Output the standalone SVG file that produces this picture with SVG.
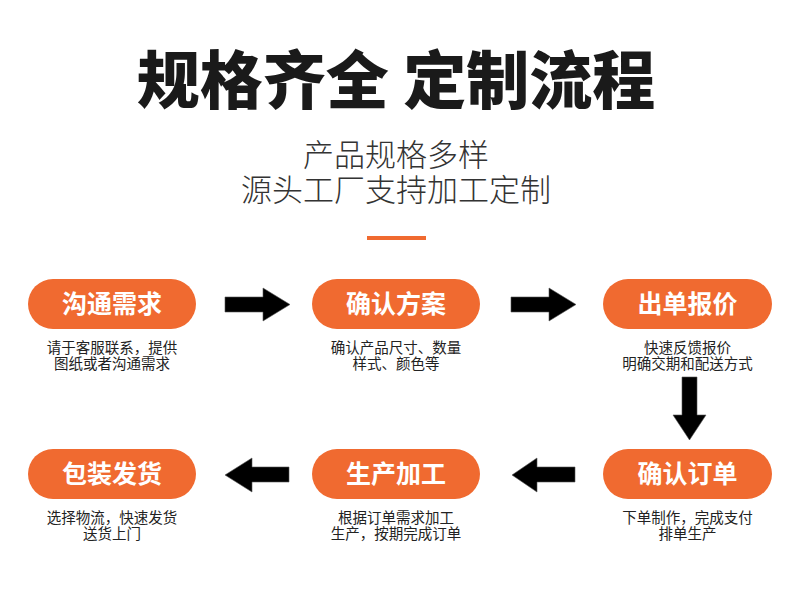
<svg xmlns="http://www.w3.org/2000/svg" width="790" height="592" viewBox="0 0 790 592">
<style>
text{font-family:"Noto Sans CJK SC","Noto Sans",sans-serif;text-anchor:middle}
.title{font-size:63px;font-weight:900;fill:#1a1a1a}
.sub{font-size:31px;font-weight:300;fill:#333}
.pill{fill:#f06a30}
.pt{font-size:25px;font-weight:700;fill:#fff}
.desc{font-size:14.5px;fill:#222}
.arr{fill:#000;stroke:#555;stroke-width:0.6}
</style>
<rect width="790" height="592" fill="#fff"/>
<g id="header">
<text class="title" x="396" y="103">规格齐全 定制流程</text>
<text class="sub" x="396" y="166">产品规格多样</text>
<text class="sub" x="396" y="201">源头工厂支持加工定制</text>
<rect x="367" y="236" width="59" height="4" fill="#f06a30"/>
</g>
<g id="n1">
<rect class="pill" x="28" y="279" width="168" height="50" rx="25"/>
<text class="pt" x="112" y="313">沟通需求</text>
<text class="desc" x="112" y="353">请于客服联系，提供</text>
<text class="desc" x="112" y="369">图纸或者沟通需求</text>
</g>
<g id="n2">
<rect class="pill" x="312" y="279" width="168" height="50" rx="25"/>
<text class="pt" x="396" y="313">确认方案</text>
<text class="desc" x="396" y="353">确认产品尺寸、数量</text>
<text class="desc" x="396" y="369">样式、颜色等</text>
</g>
<g id="n3">
<rect class="pill" x="603" y="279" width="169" height="50" rx="25"/>
<text class="pt" x="687.5" y="313">出单报价</text>
<text class="desc" x="687.5" y="353">快速反馈报价</text>
<text class="desc" x="687.5" y="369">明确交期和配送方式</text>
</g>
<g id="n4">
<rect class="pill" x="603" y="449" width="169" height="50" rx="25"/>
<text class="pt" x="687.5" y="483">确认订单</text>
<text class="desc" x="687.5" y="523">下单制作，完成支付</text>
<text class="desc" x="687.5" y="539">排单生产</text>
</g>
<g id="n5">
<rect class="pill" x="312" y="449" width="168" height="50" rx="25"/>
<text class="pt" x="396" y="483">生产加工</text>
<text class="desc" x="396" y="523">根据订单需求加工</text>
<text class="desc" x="396" y="539">生产，按期完成订单</text>
</g>
<g id="n6">
<rect class="pill" x="28" y="449" width="168" height="50" rx="25"/>
<text class="pt" x="112" y="483">包装发货</text>
<text class="desc" x="112" y="523">选择物流，快速发货</text>
<text class="desc" x="112" y="539">送货上门</text>
</g>
<g id="connectors">
<polygon class="arr" points="225,297 263,297 263,288 290,304.5 263,321 263,312 225,312"/>
<polygon class="arr" points="511,297 549,297 549,288 576,304.5 549,321 549,312 511,312"/>
<polygon class="arr" points="682,377 697,377 697,415 706,415 689.5,440 673,415 682,415"/>
<polygon class="arr" points="575,467 537,467 537,458 512,475 537,492 537,482 575,482"/>
<polygon class="arr" points="289,467 252,467 252,458 225,475 252,492 252,482 289,482"/>
</g>
</svg>
